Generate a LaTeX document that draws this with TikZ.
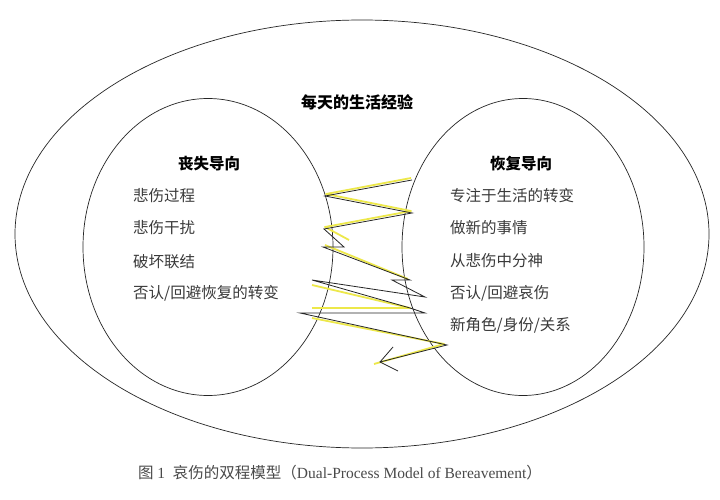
\documentclass[tikz,border=0pt]{standalone}
\usepackage{fontspec}
\usetikzlibrary{shapes.geometric}
\setmainfont{Liberation Serif}
\newfontfamily\cjk{Noto Sans CJK SC}
\definecolor{txt}{HTML}{3A3A3A}
\definecolor{cap}{HTML}{4A4A4A}
\definecolor{ylw}{HTML}{EDE84A}
\tikzset{
  ring/.style={draw=black!85, line width=0.7pt, ellipse, inner sep=0pt},
  head/.style={font=\cjk\bfseries\fontsize{15.5}{18}\selectfont, text=black, inner sep=0pt},
  item/.style={font=\cjk\fontsize{15.5}{18}\selectfont, text=txt, anchor=west, inner sep=0pt},
  zz/.style={draw=black!85, line width=0.8pt, line join=miter},
  zy/.style={draw=ylw, line width=1.8pt, line join=round},
}
\begin{document}
\begin{tikzpicture}[x=1pt,y=-1pt]
\useasboundingbox (0,0) rectangle (720,500);
\fill[white] (0,0) rectangle (720,500);
% ellipses
\node[ring, minimum width=694pt, minimum height=428pt] (outer) at (362,234) {};
\node[ring, minimum width=250pt, minimum height=297pt] (left) at (208,247) {};
\node[ring, minimum width=242pt, minimum height=297pt] (right) at (523,247) {};
% titles
\node[head, font=\cjk\bfseries\fontsize{16}{18}\selectfont] (title) at (357,102) {每天的生活经验};
\node[head] (lh) at (209,164) {丧失导向};
\node[head] (rh) at (521,164) {恢复导向};
% left items
\node[item] (l1) at (133,196) {悲伤过程};
\node[item] (l2) at (133,228) {悲伤干扰};
\node[item] (l3) at (133,262) {破坏联结};
\node[item] (l4) at (133,293) {否认/回避恢复的转变};
% right items
\node[item] (r1) at (450,196) {专注于生活的转变};
\node[item] (r2) at (450,228) {做新的事情};
\node[item] (r3) at (450,261) {从悲伤中分神};
\node[item] (r4) at (450,293) {否认/回避哀伤};
\node[item] (r5) at (450,325) {新角色/身份/关系};
% zigzag
\coordinate (A) at (412,180);
\coordinate (B) at (325,196);
\coordinate (C) at (412,213);
\coordinate (D) at (324,229);
\coordinate (E) at (344,247);
\coordinate (F) at (323,247);
\coordinate (G) at (410,280);
\coordinate (H) at (392,280);
\coordinate (I) at (425,297);
\coordinate (J) at (312,280);
\coordinate (K) at (410,308);
\coordinate (M) at (425,313);
\coordinate (N) at (300,313);
\coordinate (O) at (447,345);
\coordinate (P) at (380,362);
\coordinate (Q1) at (393,347);
\coordinate (Q2) at (398,371);
% yellow shadow
\draw[zy] ([shift={(-1,-2)}]A) -- ([shift={(1,-2)}]B) -- ([shift={(-1,-2)}]C) -- ([shift={(1,-2)}]D) -- (349,240);
\draw[zy] ([shift={(2,-2)}]F) -- ([shift={(-2,-1)}]G);
\draw[zy] (312,285) -- (410,308) -- (312,308);
\draw[zy] (312,318) -- ([shift={(-3,-1)}]O) -- ([shift={(-6,2)}]P);
% black zigzag
\draw[zz] (A) -- (B) -- (C) -- (D) -- (E) -- (F) -- (G) -- (H) -- (I) -- (J) -- (K) -- (M) -- (N) -- (O) -- (P);
\draw[zz] (Q1) -- (P) -- (Q2);
% caption
\node[font=\fontsize{15.5}{18}\selectfont, text=cap, inner sep=0pt] (caption) at (340,473) {{\cjk 图}~1~~{\cjk 哀伤的双程模型（}Dual-Process Model of Bereavement{\cjk ）}};
\end{tikzpicture}
\end{document}
